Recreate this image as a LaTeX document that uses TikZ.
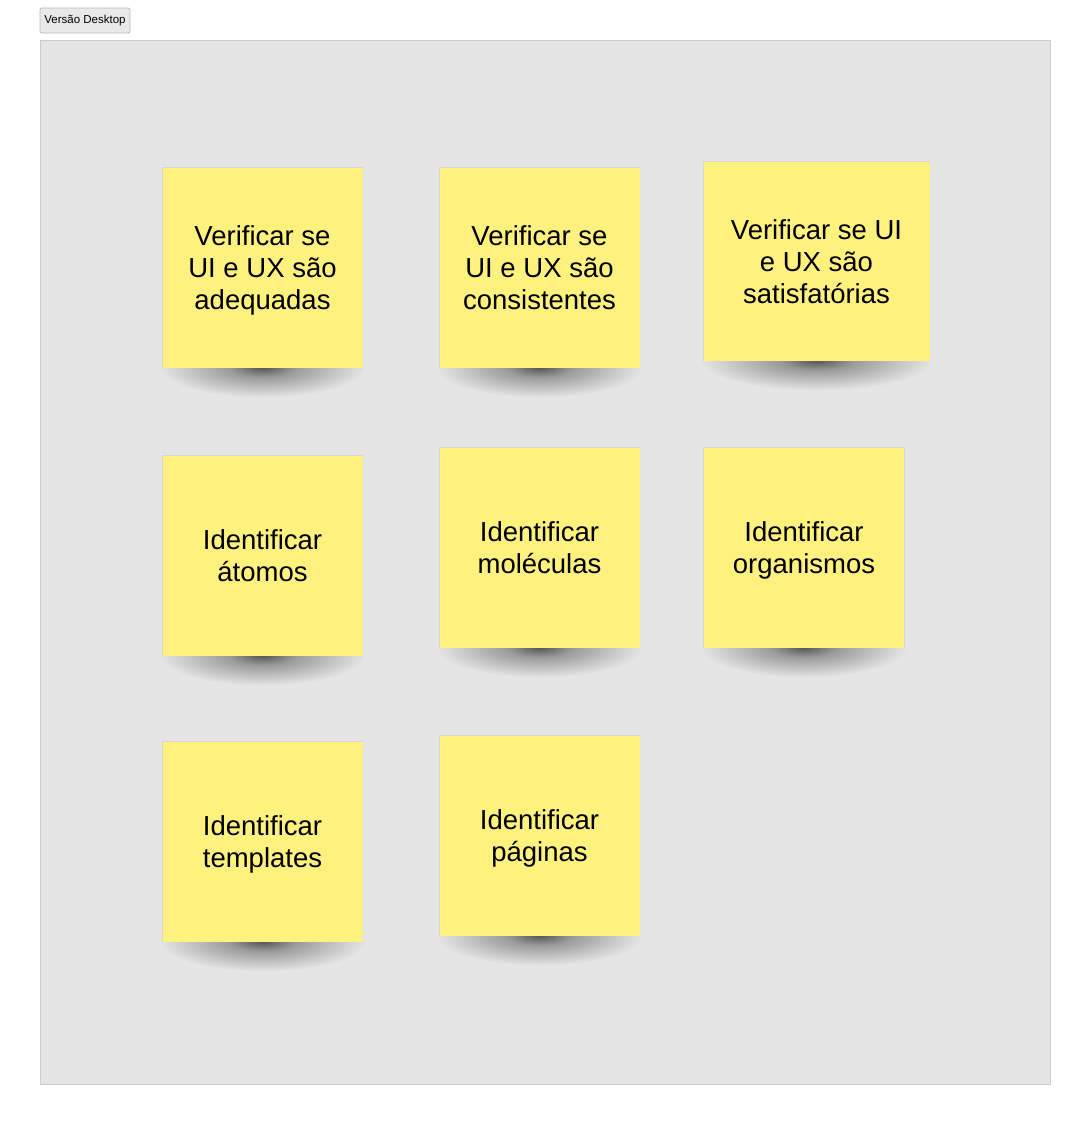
\documentclass[tikz,border=0pt]{standalone}
\usepackage{fontspec}
\setmainfont{Liberation Sans}
\definecolor{panelbg}{HTML}{E5E5E5}
\definecolor{panelline}{HTML}{CDCDCD}
\definecolor{notefill}{HTML}{FEF17E}
\definecolor{btnfill}{HTML}{E9E9E9}
\definecolor{btnline}{HTML}{BDBDBD}
\definecolor{shadowdark}{HTML}{555555}
\definecolor{shadowmid}{HTML}{9A9A9A}
\definecolor{edgeshade}{HTML}{D6D6D6}
\pgfdeclareradialshading{notefade}{\pgfpoint{0bp}{0bp}}{color(0bp)=(shadowdark); color(8bp)=(shadowmid); color(25bp)=(panelbg); color(50bp)=(panelbg)}
\tikzset{
  note/.style={fill=notefill, draw=none, inner sep=0pt},
  notetext/.style={align=center, inner sep=0pt, font=\fontsize{27.5}{32}\selectfont},
  noteedge/.style={draw=edgeshade, line width=1.2pt},
  panel/.style={fill=panelbg, draw=panelline, line width=0.8pt},
  button/.style={fill=btnfill, draw=btnline, line width=0.8pt, rounded corners=2pt,
    font=\fontsize{11.5}{13}\selectfont, inner sep=0pt}
}
\newcommand\stickynote[6]{%
  \shade[shading=notefade] (#2,{#3+#5/2}) ellipse ({#4/2+3} and 30);
  \draw[noteedge] ({#2-#4/2},{#3-#5/2}) rectangle ({#2+#4/2},{#3+#5/2});
  \node[note, minimum width=#4pt, minimum height=#5pt] (#1) at (#2,#3) {};
  \node[notetext] (#1t) at ([yshift=-3pt]#1.center) {#6\vphantom{g}};
}
\begin{document}
\begin{tikzpicture}[x=1pt,y=-1pt]
\useasboundingbox (0,0) rectangle (1091,1125);
\fill[white] (0,0) rectangle (1091,1125);
\node[button, minimum width=90pt, minimum height=25pt] (btn) at (85,20.5) {Versão Desktop};
\node[panel, minimum width=1010pt, minimum height=1044pt, inner sep=0pt] (panel) at (545,562) {};
\stickynote{n1}{262.5}{267.5}{200}{200}{Verificar se\\UI e UX são\\adequadas}
\stickynote{n2}{539.5}{267.5}{200}{200}{Verificar se\\UI e UX são\\consistentes}
\stickynote{n3}{816.5}{261}{226}{199}{Verificar se UI\\e UX são\\satisfatórias}
\stickynote{n4}{262.5}{555.5}{200}{200}{Identificar\\átomos}
\stickynote{n5}{539.5}{547.5}{200}{200}{Identificar\\moléculas}
\stickynote{n6}{804}{547.5}{200}{200}{Identificar\\organismos}
\stickynote{n7}{262.5}{841.5}{200}{200}{Identificar\\templates}
\stickynote{n8}{539.5}{835.5}{200}{200}{Identificar\\páginas}
\end{tikzpicture}
\end{document}
